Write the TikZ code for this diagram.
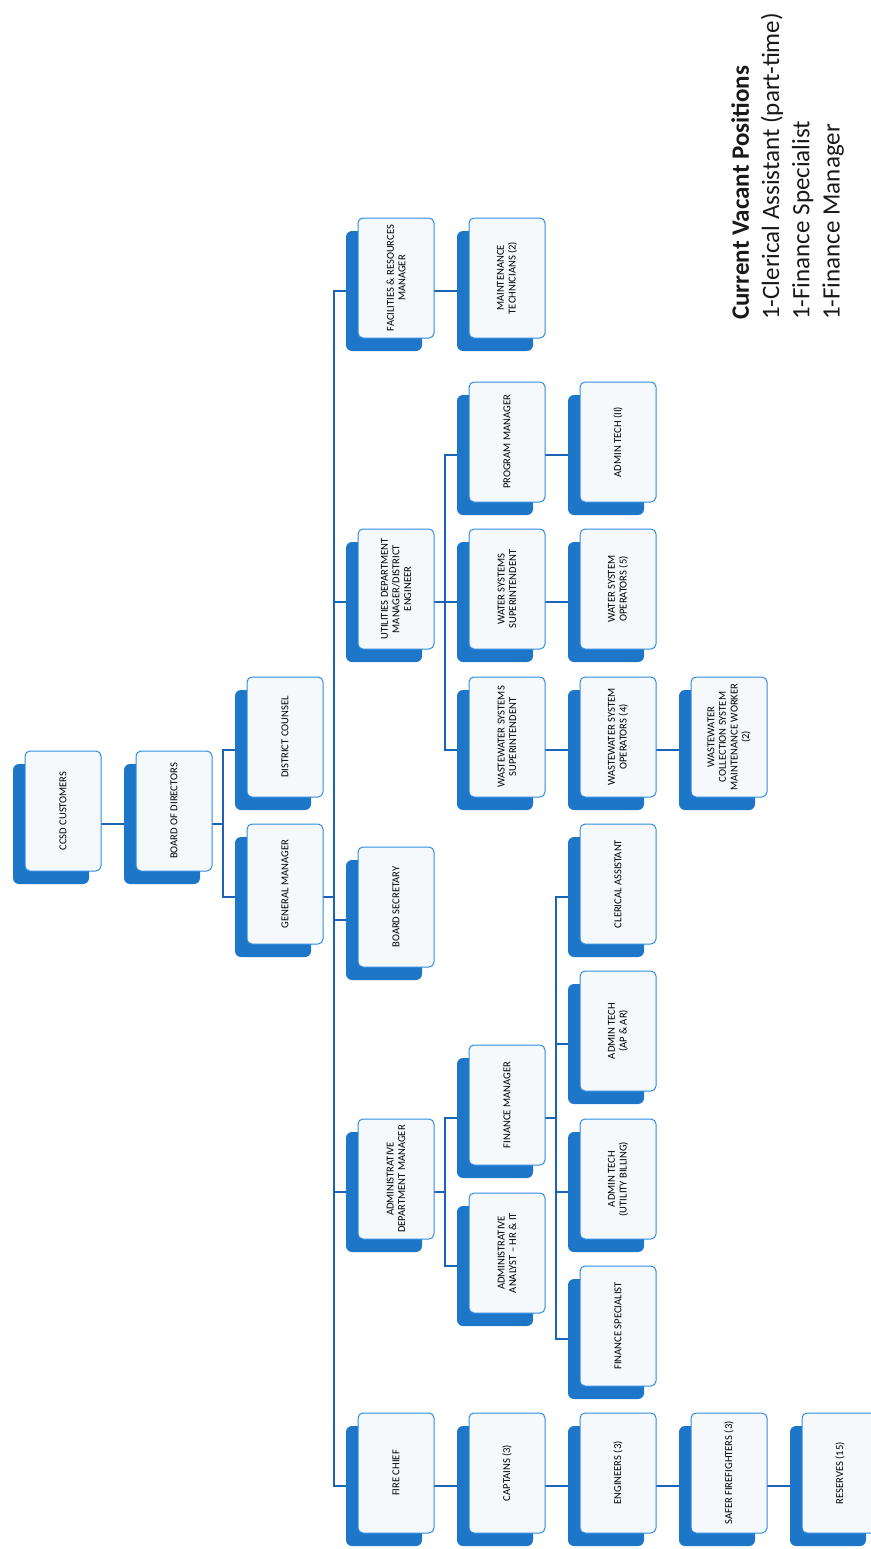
\documentclass[tikz,border=0pt]{standalone}
\usepackage{fontspec}
\setmainfont{Carlito}
\usetikzlibrary{backgrounds}
\definecolor{shadowblue}{HTML}{1E76C9}
\definecolor{edgeblue}{HTML}{2E8BE0}
\definecolor{linkblue}{HTML}{1C62B6}
\definecolor{boxfill}{HTML}{F6F9FC}
\begin{document}
\begin{tikzpicture}[x=1pt, y=-1pt,
  post/.style={rotate=90, draw=edgeblue, fill=boxfill, line width=1pt, rounded corners=5pt,
    minimum width=120pt, minimum height=76pt, inner sep=2pt, align=center, text=black,
    font=\fontsize{10.6}{11.6}\selectfont},
  postshade/.style={fill=shadowblue, rounded corners=6pt, minimum width=76pt, minimum height=120pt, inner sep=0pt},
  link/.style={draw=linkblue, line width=1.8pt}]
  \useasboundingbox (0,0) rectangle (870,1549);
  \foreach \n/\x/\y/\t in {
    ccsd/25/751/{CCSD CUSTOMERS},
    bod/136/751/{BOARD OF DIRECTORS},
    dc/247/677/{DISTRICT COUNSEL},
    gm/247/824/{GENERAL MANAGER},
    fac/358/218/{FACILITIES \& RESOURCES\\MANAGER},
    util/358/529/{UTILITIES DEPARTMENT\\MANAGER/DISTRICT\\ENGINEER},
    bsec/358/847/{BOARD SECRETARY},
    adm/358/1119/{ADMINISTRATIVE\\DEPARTMENT MANAGER},
    fire/358/1413/{FIRE CHIEF},
    maint/469/218/{MAINTENANCE\\TECHNICIANS (2)},
    prog/469/382/{PROGRAM MANAGER},
    wsup/469/529/{WATER SYSTEMS\\SUPERINTENDENT},
    wwsup/469/677/{WASTEWATER SYSTEMS\\SUPERINTENDENT},
    fin/469/1045/{FINANCE MANAGER},
    ana/469/1193/{ADMINISTRATIVE\\ANALYST -- HR \& IT},
    capt/469/1413/{CAPTAINS (3)},
    tech/580/382/{ADMIN TECH (II)},
    wops/580/529/{WATER SYSTEM\\OPERATORS (5)},
    wwops/580/677/{WASTEWATER SYSTEM\\OPERATORS (4)},
    cler/580/824/{CLERICAL ASSISTANT},
    apar/580/971/{ADMIN TECH\\(AP \& AR)},
    bill/580/1119/{ADMIN TECH\\(UTILITY BILLING)},
    fspec/580/1266/{FINANCE SPECIALIST},
    eng/580/1413/{ENGINEERS (3)},
    wwcol/691/677/{WASTEWATER\\COLLECTION SYSTEM\\MAINTENANCE WORKER\\(2)},
    safer/691/1413/{SAFER FIREFIGHTERS (3)},
    res/802/1413/{RESERVES (15)}} {
    \node[postshade] (\n-s) at (\x+26,\y+73) {};
    \node[post] (\n) at (\x+38,\y+60) {\t};
  }
  \begin{pgfonlayer}{background}
    \foreach \a/\b in {ccsd/bod, fac/maint, prog/tech, wsup/wops, wwsup/wwops, wwops/wwcol,
        fire/capt, capt/eng, eng/safer, safer/res}
      \draw[link] (\a-s.east) -- (\b-s.west);
    \foreach \a/\b in {bod/dc, bod/gm, gm/fac, gm/util, gm/bsec, gm/adm, gm/fire,
        util/prog, util/wsup, util/wwsup, adm/fin, adm/ana, fin/cler, fin/apar, fin/bill, fin/fspec}
      \draw[link] (\a-s.east) -- ++(23,0) |- (\b-s.west);
  \end{pgfonlayer}
  \node[rotate=90, anchor=north west, inner sep=0pt, align=left, text=black!90,
    font=\fontsize{25}{30.3}\selectfont] (vacant) at (731,320)
    {\textbf{Current Vacant Positions}\\1-Clerical Assistant (part-time)\\1-Finance Specialist\\1-Finance Manager};
\end{tikzpicture}
\end{document}
